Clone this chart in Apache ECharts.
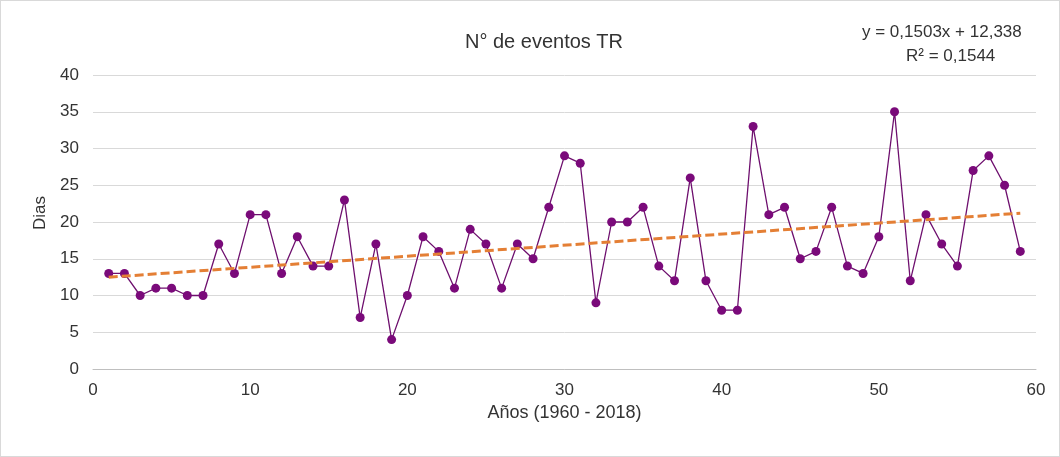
<!DOCTYPE html>
<html>
<head>
<meta charset="utf-8">
<script src="https://cdn.jsdelivr.net/npm/echarts@6/dist/echarts.min.js"></script>
<style>
  html, body { margin: 0; padding: 0; background: #fff; }
  #chart { width: 1060px; height: 457px; box-sizing: border-box; border: 1px solid #d9d9d9; }
</style>
</head>
<body>
<div id="chart"></div>
<script>
// años 1..59 (1960 - 2018)
const years = Array.from({ length: 59 }, (_, i) => i + 1)
const eventos = [
  13, 13, 10, 11, 11, 10, 10, 17, 13, 21,
  21, 13, 18, 14, 14, 23, 7, 17, 4, 10,
  18, 16, 11, 19, 17, 11, 17, 15, 22, 29,
  28, 9, 20, 20, 22, 14, 12, 26, 12, 8,
  8, 33, 21, 22, 15, 16, 22, 14, 13, 18,
  35, 12, 21, 17, 14, 27, 29, 25, 16
]
// linea de tendencia (Excel)
const trendSlope = 0.1503
const trendIntercept = 12.338
const trendLabel = 'y = 0,1503x + 12,338'
const r2Label = 'R² = 0,1544'

const font = '"Liberation Sans", Arial, sans-serif'
const chart = echarts.init(document.getElementById('chart'))

const points = years.map((x, i) => [x, eventos[i]])
const first = years[0], last = years[years.length - 1]
const trend = [
  [first, trendSlope * first + trendIntercept],
  [last, trendSlope * last + trendIntercept]
]

chart.setOption({
  animation: false,
  textStyle: { fontFamily: font },
  title: {
    text: 'N° de eventos TR',
    left: 538,
    top: 26,
    textAlign: 'center',
    textStyle: { fontFamily: font, fontSize: 20, fontWeight: 'normal', color: '#333' }
  },
  graphic: [
    { type: 'text', left: 861, top: 23, style: { text: trendLabel, font: '17px ' + font, fill: '#333' } },
    { type: 'text', left: 905, top: 47, style: { text: r2Label, font: '17px ' + font, fill: '#333' } }
  ],
  grid: { left: 92, right: 23, top: 74, bottom: 87 },
  xAxis: {
    type: 'value',
    min: 0,
    max: 60,
    interval: 10,
    name: 'Años (1960 - 2018)',
    nameLocation: 'middle',
    nameGap: 32,
    nameTextStyle: { fontFamily: font, fontSize: 18, color: '#333' },
    axisLine: { lineStyle: { color: '#bfbfbf' } },
    axisTick: { show: false },
    axisLabel: { color: '#333', fontSize: 17, margin: 13 },
    splitLine: { show: false }
  },
  yAxis: {
    type: 'value',
    min: 0,
    max: 40,
    interval: 5,
    name: 'Dias',
    nameLocation: 'middle',
    nameGap: 40,
    nameTextStyle: { fontFamily: font, fontSize: 17, color: '#333', padding: [0, 0, 0, 18] },
    axisLine: { show: false },
    axisTick: { show: false },
    axisLabel: { color: '#333', fontSize: 17, margin: 14 },
    splitLine: { lineStyle: { color: '#d9d9d9' } }
  },
  series: [
    {
      name: 'Eventos',
      type: 'line',
      data: points,
      symbol: 'circle',
      symbolSize: 9,
      lineStyle: { color: '#6e0f6e', width: 1.3 },
      itemStyle: { color: '#7a0a7a' },
      z: 3
    },
    {
      name: 'Tendencia',
      type: 'line',
      data: trend,
      symbol: 'none',
      lineStyle: { color: '#e47f35', width: 3, type: [9, 4] },
      z: 4
    }
  ]
})
</script>
</body>
</html>
